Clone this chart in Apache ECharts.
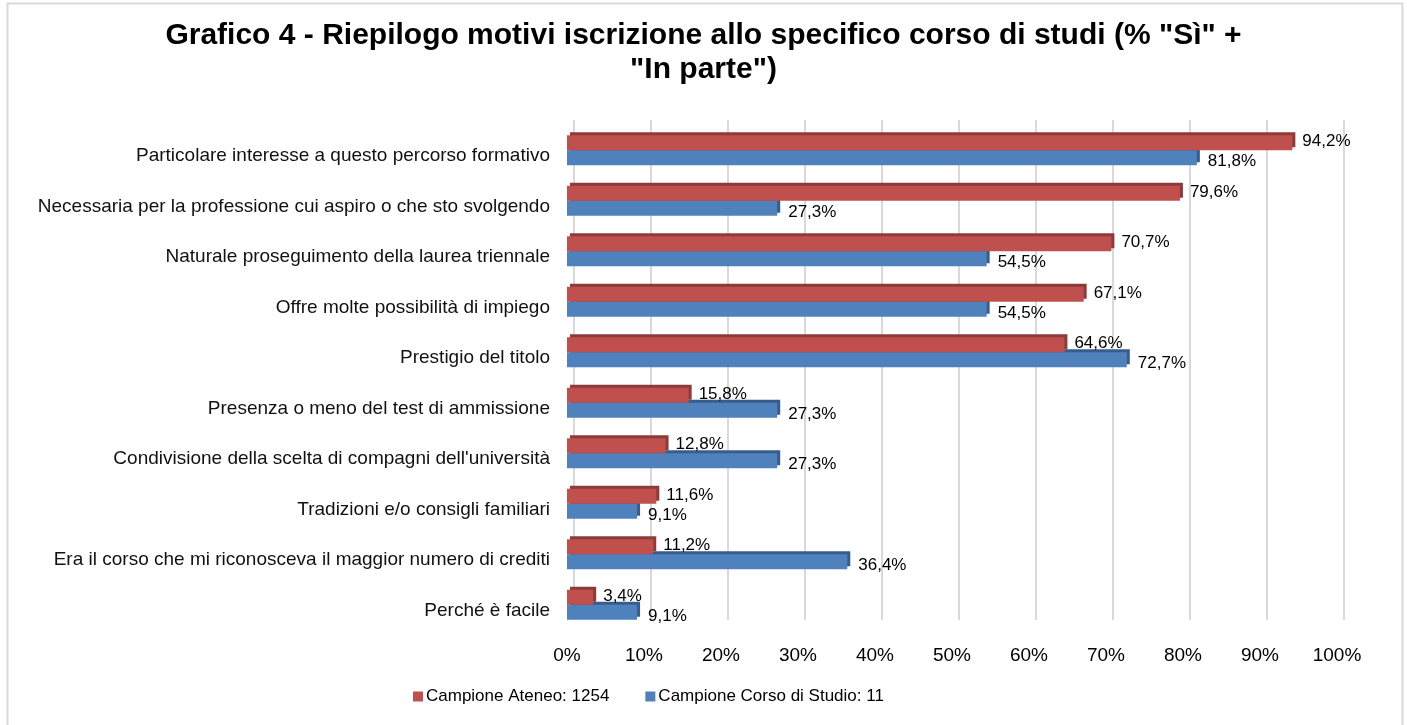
<!DOCTYPE html>
<html>
	<head>
		<meta charset="utf-8">
		<title>Grafico 4</title>
		<script src="https://cdn.jsdelivr.net/npm/echarts@6/dist/echarts.min.js"></script>
		<style>
			html, body { margin: 0; padding: 0; background: #fff; }
			#chart { width: 1407px; height: 725px; }
		</style>
	</head>
	<body>
		<div id="chart"></div>
		<script>
			// motivi (dall'alto in basso)
			var motivi = [
				'Particolare interesse a questo percorso formativo',
				'Necessaria per la professione cui aspiro o che sto svolgendo',
				'Naturale proseguimento della laurea triennale',
				'Offre molte possibilità di impiego',
				'Prestigio del titolo',
				'Presenza o meno del test di ammissione',
				"Condivisione della scelta di compagni dell'università",
				'Tradizioni e/o consigli familiari',
				'Era il corso che mi riconosceva il maggior numero di crediti',
				'Perché è facile'
			];
			var ateneo = [94.2, 79.6, 70.7, 67.1, 64.6, 15.8, 12.8, 11.6, 11.2, 3.4];
			var corso = [81.8, 27.3, 54.5, 54.5, 72.7, 27.3, 27.3, 9.1, 36.4, 9.1];
			var nomiSerie = ['Campione Ateneo: 1254', 'Campione Corso di Studio: 11'];

			var chart = echarts.init(document.getElementById('chart'));

			function pct(p) {
				return p.value.toFixed(1).replace('.', ',') + '%';
			}

			var option = {
				animation: false,
				textStyle: { fontFamily: 'Liberation Sans, Arial, sans-serif' },
				title: {
					text: 'Grafico 4 - Riepilogo motivi iscrizione allo specifico corso di studi (% "Sì" +\n"In parte")',
					left: 'center',
					top: 14,
					padding: [5, 0, 5, 12],
					textStyle: {
						fontSize: 30,
						fontWeight: 'bold',
						color: '#000',
						lineHeight: 34
					}
				},
				legend: {
					bottom: 15,
					left: 408,
					itemWidth: 10,
					itemHeight: 10,
					itemGap: 36,
					icon: 'rect',
					textStyle: { fontSize: 17, color: '#000', padding: [0, 0, 0, -2] },
					data: nomiSerie
				},
				graphic: [{
					type: 'rect',
					shape: { x: 7.5, y: 3.5, width: 1395, height: 740 },
					style: { fill: 'none', stroke: '#d9d9d9', lineWidth: 2 },
					silent: true
				}],
				grid: [
					{ left: 567, right: 70, top: 125, bottom: 95 },
					{ left: 574, right: 63, top: 120, bottom: 105 }
				],
				xAxis: [{
					type: 'value',
					gridIndex: 0,
					min: 0,
					max: 100,
					interval: 10,
					axisLine: { show: false },
					axisTick: { show: false },
					splitLine: { show: false },
					axisLabel: { formatter: '{value}%', fontSize: 19, color: '#000', margin: 16 }
				}, {
					type: 'value',
					gridIndex: 1,
					min: 0,
					max: 100,
					interval: 10,
					axisLine: { show: false },
					axisTick: { show: false },
					axisLabel: { show: false },
					splitLine: { lineStyle: { color: '#d9d9d9', width: 2 } }
				}],
				yAxis: [{
					type: 'category',
					gridIndex: 0,
					inverse: true,
					data: motivi,
					axisLine: { show: false },
					axisTick: { show: false },
					axisLabel: { fontSize: 19, color: '#111', margin: 17, verticalAlign: 'top', lineHeight: 12 }
				}, {
					type: 'category',
					gridIndex: 1,
					inverse: true,
					data: motivi,
					show: false
				}],
				series: [{
					name: nomiSerie[0],
					type: 'bar',
					xAxisIndex: 0,
					yAxisIndex: 0,
					data: ateneo,
					barWidth: 15,
					barGap: '0%',
					z: 3,
					itemStyle: {
						color: '#c0504d',
						shadowColor: '#8e3a38',
						shadowOffsetX: 3,
						shadowOffsetY: -3,
						shadowBlur: 0
					},
					label: { show: true, position: 'right', distance: 10, formatter: pct, fontSize: 17, color: '#000', offset: [0, -1] }
				}, {
					name: nomiSerie[1],
					type: 'bar',
					xAxisIndex: 0,
					yAxisIndex: 0,
					data: corso,
					barWidth: 15,
					z: 2,
					itemStyle: {
						color: '#4f81bd',
						shadowColor: '#375d8c',
						shadowOffsetX: 3,
						shadowOffsetY: -3,
						shadowBlur: 0
					},
					label: { show: true, position: 'right', distance: 11, formatter: pct, fontSize: 17, color: '#000', offset: [0, 4] }
				}]
			};
			chart.setOption(option);
		</script>
	</body>
</html>
